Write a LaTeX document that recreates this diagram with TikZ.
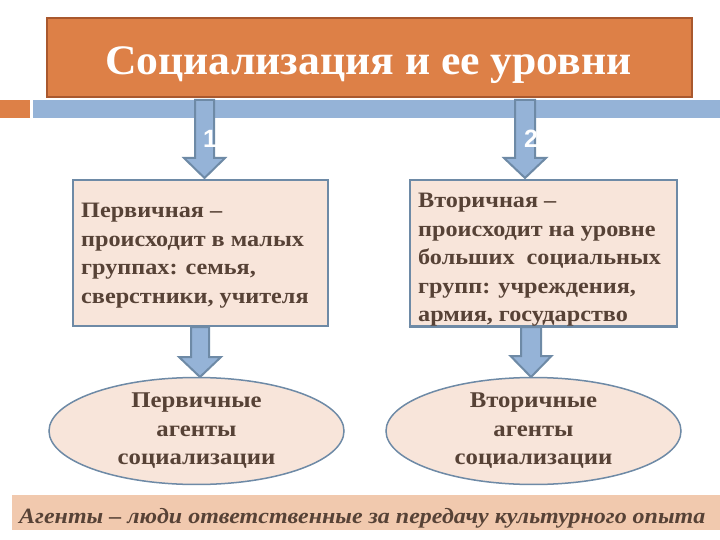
\documentclass[tikz,border=0pt]{standalone}
\usepackage{fontspec}
\setmainfont{Liberation Serif}
\newfontfamily\numfont{Liberation Sans}
\newfontfamily\widefont[FakeStretch=1.1]{Liberation Serif}
\newfontfamily\titlefont[FakeStretch=1.04]{Liberation Serif}
\usetikzlibrary{shapes.geometric}
\definecolor{orng}{HTML}{DD8047}
\definecolor{orngdark}{HTML}{A9582E}
\definecolor{barblue}{HTML}{95B3D7}
\definecolor{edgeblue}{HTML}{6E8AA6}
\definecolor{peach}{HTML}{F8E5DA}
\definecolor{tan}{HTML}{F1C9AE}
\definecolor{brown}{HTML}{574236}
\tikzset{
  blockarrow/.style={fill=barblue,draw=edgeblue,line width=2pt,line join=miter},
  levelbox/.style={draw=edgeblue,fill=peach,line width=2pt},
  boxtext/.style={anchor=north west,align=left,text=brown,font=\widefont\fontsize{22}{28.5}\selectfont\bfseries,inner sep=0pt},
  agent/.style={ellipse,draw=edgeblue,fill=peach,line width=1.5pt,minimum width=295pt,minimum height=104pt,align=center,text=brown,font=\widefont\fontsize{22.5}{28.5}\selectfont\bfseries,inner sep=0pt},
  numlabel/.style={text=white,font=\numfont\bfseries\fontsize{25}{25}\selectfont,inner sep=0pt}
}
% #1 centre x, #2 top y, #3 head y, #4 tip y, #5 shaft half width, #6 head half width
\newcommand\blockdown[6]{%
  \draw[blockarrow] (#1-#5,#2) -- (#1+#5,#2) -- (#1+#5,#3) -- (#1+#6,#3) -- (#1,#4) -- (#1-#6,#3) -- (#1-#5,#3) -- cycle;}
\begin{document}
\begin{tikzpicture}[x=1pt,y=-1pt]
\useasboundingbox (0,0) rectangle (720,540);
\fill[white] (0,0) rectangle (720,540);
% decorative bar
\fill[orng] (0,100) rectangle (30,118);
\fill[barblue] (33,100) rectangle (720,118);
% title
\node[draw=orngdark,fill=orng,line width=2.5pt,minimum width=645pt,minimum height=79pt,inner sep=0pt] (title) at (369.5,57.5) {};
\node[anchor=base,text=white,font=\titlefont\fontsize{42}{42}\selectfont\bfseries,inner sep=0pt] (titletext) at (368.5,75) {Социализация и ее уровни};
% top arrows
\blockdown{204.5}{100}{158}{178}{9.5}{20.5}
\blockdown{525}{100}{158}{178}{10}{21}
\node[numlabel] (n1) at (210,139) {1};
\node[numlabel] (n2) at (531,139) {2};
% level boxes
\node[levelbox,minimum width=255pt,minimum height=146pt,inner sep=0pt] (prim) at (200.5,253) {};
\node[levelbox,minimum width=267pt,minimum height=146pt,inner sep=0pt] (sec) at (543,253) {};
\node[boxtext] (primtext) at (81,203) {Первичная –\\происходит в малых\\группах: семья,\\сверстники, учителя};
\node[boxtext] (sectext) at (418,193) {Вторичная –\\происходит на уровне\\больших\ \ социальных\\групп: учреждения,\\армия, государство};
\draw[edgeblue,line width=2pt] (sec.south west) -- (sec.south east);
% lower arrows
\blockdown{200}{327}{357}{377}{9}{21}
\blockdown{531}{327}{356}{377}{10}{20.5}
% agents
\node[agent] (agprim) at (196.5,431) {Первичные\\агенты\\социализации};
\node[agent] (agsec) at (533.5,431) {Вторичные\\агенты\\социализации};
% bottom note
\fill[tan] (12,495) rectangle (720,530);
\node[anchor=base west,text=brown,font=\widefont\itshape\bfseries\fontsize{21.8}{22}\selectfont,inner sep=0pt] (notetext) at (19,523) {Агенты – люди ответственные за передачу культурного опыта};
\end{tikzpicture}
\end{document}
